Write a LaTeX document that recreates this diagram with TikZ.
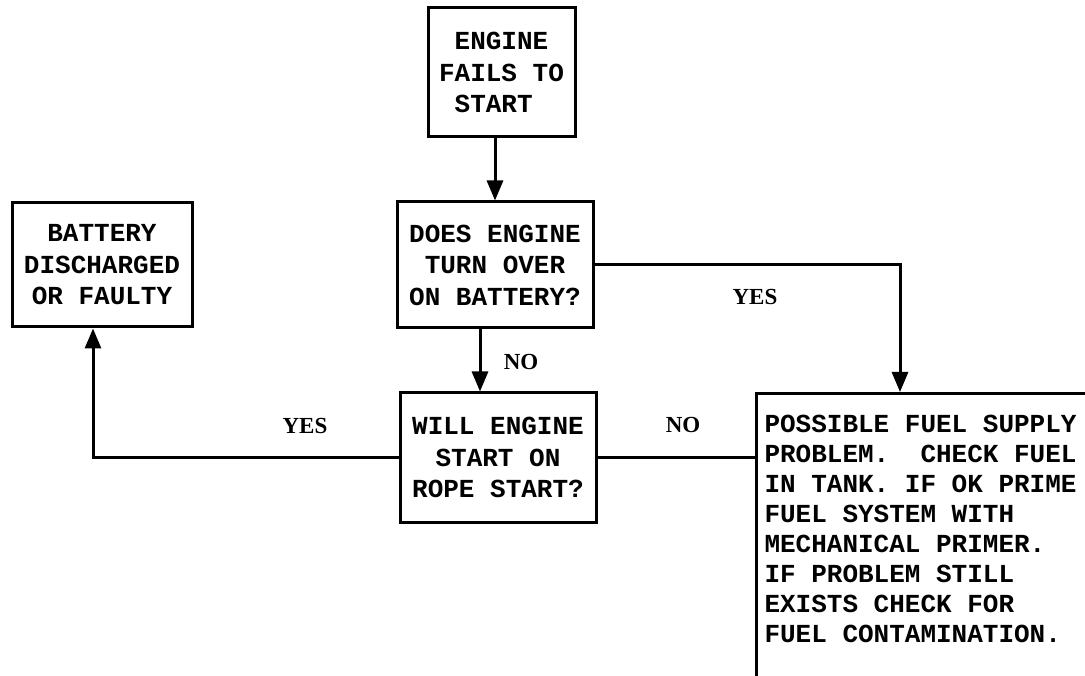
\documentclass[tikz,border=0pt]{standalone}
\usepackage{fontspec}
\setmainfont{Liberation Serif}
\newfontfamily\boxfont[WordSpace={1,0,0},PunctuationSpace=WordSpace]{Liberation Mono}
\usetikzlibrary{arrows.meta}
\tikzset{
  box/.style={draw, line width=3pt, rectangle, inner sep=2pt, align=center,
    font=\boxfont\bfseries\fontsize{26}{31.5}\selectfont\frenchspacing},
  conn/.style={line width=3pt},
  arr/.style={conn, -{Triangle[length=20pt,width=16pt]}},
  lbl/.style={font=\bfseries\fontsize{23}{26}\selectfont, inner sep=0pt}
}
\begin{document}
\begin{tikzpicture}[x=1pt,y=-1pt]
\clip (0,0) rectangle (1085,676);
\fill[white] (0,0) rectangle (1085,676);

\node[box, minimum width=147pt, minimum height=129pt] (b1) at (501.5,72.5)
  {ENGINE\\FAILS TO\\START\phantom{ }};
\node[box, minimum width=196pt, minimum height=126pt] (b2) at (495,265)
  {DOES ENGINE\\TURN OVER\\ON BATTERY?};
\node[box, minimum width=196pt, minimum height=129pt] (b3) at (498,457.5)
  {WILL ENGINE\\START ON\\ROPE START?};
\node[box, minimum width=180pt, minimum height=124pt] (bat) at (102,265)
  {BATTERY\\DISCHARGED\\OR FAULTY};
\node[box, anchor=north west, align=flush left, inner xsep=8pt, text width=340pt,
  minimum height=300pt,
  font=\boxfont\bfseries\fontsize{26}{30}\selectfont\frenchspacing] (fuel) at (755,392)
  {POSSIBLE FUEL SUPPLY\\PROBLEM.\ \ CHECK FUEL\\IN TANK. IF OK PRIME\\FUEL SYSTEM WITH\\MECHANICAL PRIMER.\\IF PROBLEM STILL\\EXISTS CHECK FOR\\FUEL CONTAMINATION.\\\mbox{}};

\draw[arr] (b2.north |- b1.south) -- (b2.north);
\draw[arr] ([xshift=-15pt]b2.south) -- ([xshift=-15pt]b2.south |- b3.north);
\draw[arr] (b2.east) -| ([xshift=145pt]fuel.north west);
\draw[conn] (b3.east) -- (b3.east -| fuel.west);
\draw[arr] (b3.west) -| ([xshift=-9pt]bat.south);

\node[lbl] (lno1) at (521,362) {NO};
\node[lbl] (lyes1) at (755,297) {YES};
\node[lbl] (lyes2) at (305,426) {YES};
\node[lbl] (lno2) at (683,425) {NO};
\end{tikzpicture}
\end{document}
